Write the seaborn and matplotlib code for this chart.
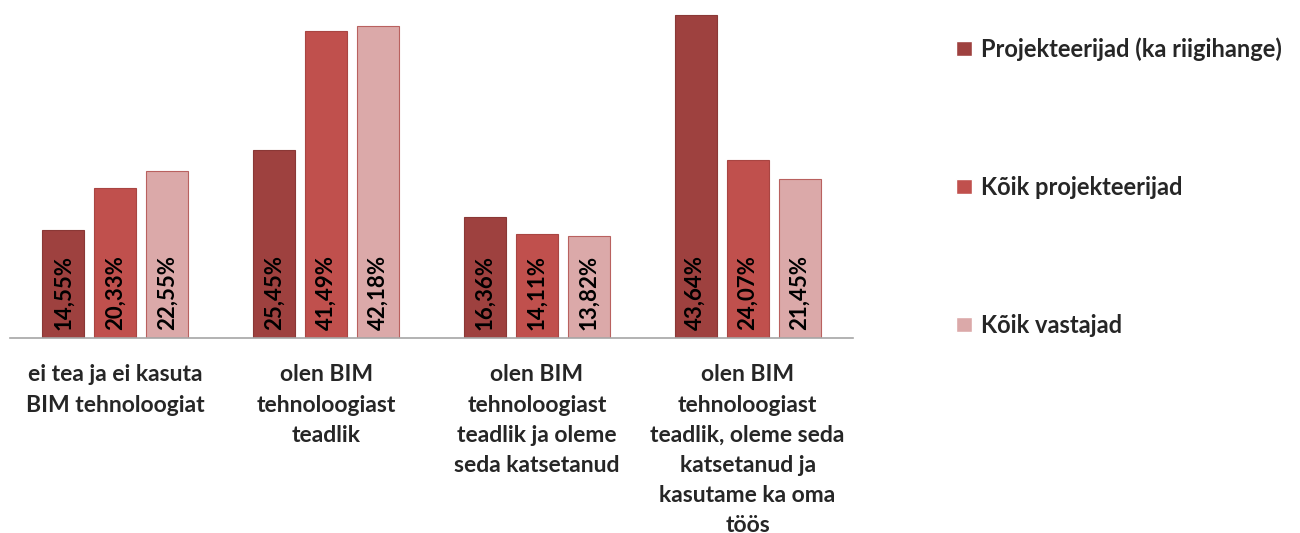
import numpy as np
import pandas as pd
import matplotlib
matplotlib.use("Agg")
import matplotlib.pyplot as plt
import seaborn as sns

# data
categories = [
    "ei tea ja ei kasuta\nBIM tehnoloogiat",
    "olen BIM\ntehnoloogiast\nteadlik",
    "olen BIM\ntehnoloogiast\nteadlik ja oleme\nseda katsetanud",
    "olen BIM\ntehnoloogiast\nteadlik, oleme seda\nkatsetanud ja\nkasutame ka oma\ntöös",
]
series = ["Projekteerijad (ka riigihange)", "Kõik projekteerijad", "Kõik vastajad"]
projekteerijad_riigihange = [14.55, 25.45, 16.36, 43.64]
koik_projekteerijad = [20.33, 41.49, 14.11, 24.07]
koik_vastajad = [22.55, 42.18, 13.82, 21.45]

colors = ["#9E413F", "#C0504D", "#DBA9A9"]
edges = ["#8A3836", "#A94542", "#B9615F"]

df = pd.DataFrame({
    "kategooria": categories * 3,
    "grupp": [s for s in series for _ in categories],
    "osakaal": projekteerijad_riigihange + koik_projekteerijad + koik_vastajad,
})

sns.set_theme(style="white")
plt.rcParams["font.family"] = ["Lato", "DejaVu Sans"]
plt.rcParams["font.weight"] = "bold"

fig = plt.figure(figsize=(13, 5.33), dpi=100)
ax = fig.add_axes([10 / 1300, 195 / 533, 843 / 1300, 338 / 533])

sns.barplot(data=df, x="kategooria", y="osakaal", hue="grupp",
            palette=colors, saturation=1, width=0.74, gap=0.19,
            ax=ax, legend=True)

# edge colours + value labels inside the bars
for cont, ec in zip(ax.containers, edges):
    for bar, v in zip(cont, cont.datavalues):
        bar.set_edgecolor(ec)
        bar.set_linewidth(0.8)
        lbl = f"{v:.2f}".replace(".", ",") + "%"
        ax.annotate(lbl, (bar.get_x() + bar.get_width() / 2, 0),
                    xytext=(0, 6), textcoords="offset points",
                    rotation=90, ha="center", va="bottom",
                    fontsize=16, fontweight="bold", color="black")

ax.set_ylim(0, 45.68)
ax.set_xlim(-0.5, 3.5)
ax.set_xlabel("")
ax.set_ylabel("")
ax.set_yticks([])
ax.tick_params(axis="x", length=0, pad=19)
for t in ax.get_xticklabels():
    t.set_fontsize(16.5)
    t.set_fontweight("bold")
    t.set_linespacing(1.54)
    t.set_verticalalignment("top")
for s in ["top", "left", "right"]:
    ax.spines[s].set_visible(False)
ax.spines["bottom"].set_color("#A6A6A6")
ax.spines["bottom"].set_linewidth(1.2)

handles, labels = ax.get_legend_handles_labels()
ax.get_legend().remove()
fig.legend(handles, labels, loc="upper left",
           bbox_to_anchor=(935 / 1300, 1 - 16 / 533),
           frameon=False, labelspacing=4.87,
           handlelength=0.65, handleheight=0.65, handletextpad=0.4,
           prop={"weight": "bold", "size": 17})

fig.savefig("out.png", dpi=100)
